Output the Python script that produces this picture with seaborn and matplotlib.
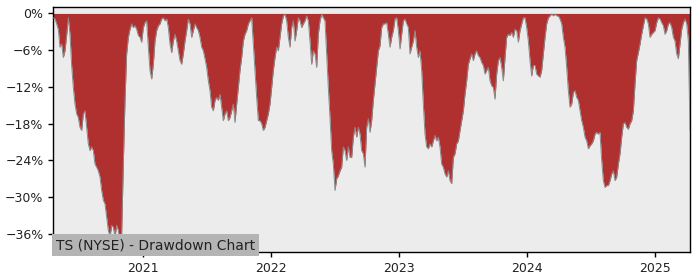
import numpy as np
import pandas as pd
import matplotlib
matplotlib.use("Agg")
import matplotlib.pyplot as plt
import matplotlib.dates as mdates
from matplotlib.ticker import FuncFormatter
import seaborn as sns

# ---- data (drawdown in %, evenly spaced samples from start to end) ----
start_date = "2020-04-21"
end_date = "2025-04-11"

dd_part1 = [-0.7, -0.9, -1.7, -2.6, -5.5, -5.0, -7.2, -6.1, -3.6, -0.7,
            -3.4, -8.5, -12.1, -14.8, -16.4, -17.0, -18.6, -19.1, -16.4, -15.9,
            -18.6, -21.3, -22.4, -21.8, -22.4, -24.6, -25.1, -25.7, -26.7, -28.9,
            -30.5, -31.1, -33.3, -35.4, -36.5, -34.6, -34.9, -36.5, -34.6, -35.4,
            -37.6, -36.0, -24.6, -14.2, -6.6, -3.9, -2.6, -1.7, -2.3, -2.0,
            -2.6, -3.6, -3.9, -4.7, -2.3, -1.5, -1.2, -5.5, -9.3, -10.7,
            -8.3]
dd_part2 = [-4.5, -2.8, -2.0, -1.7, -0.9, -0.7, -1.2, -0.9, -2.3, -5.0,
            -6.4, -4.5, -3.4, -4.5, -6.1, -7.7, -8.3, -6.6, -4.5, -2.8,
            -0.9, -1.7, -3.9, -2.8, -1.7, -2.3, -2.8, -3.9, -5.5, -6.1,
            -7.4, -8.8, -11.0, -12.6, -15.3, -15.9, -14.2, -13.7, -14.2, -13.2,
            -15.3, -17.5, -16.4, -15.9, -17.5, -17.0, -15.9, -14.8, -17.8, -14.8,
            -12.1, -9.3, -7.2, -4.5, -3.4, -2.8, -1.7, -1.2, -0.7, -5.0,
            -9.3, -13.7, -17.5]
dd_part3 = [-17.5, -18.0, -19.1, -18.6, -17.5, -16.4, -14.8, -12.1, -9.3, -7.2,
            -5.5, -6.1, -3.9, -1.7, -0.4, -0.1, -1.2, -3.9, -5.5, -2.3,
            -1.2, -4.5, -2.8, -0.7, -1.2, -2.3, -1.7, -1.2, -0.4, -1.2,
            -4.5, -8.3, -6.1, -6.6, -8.8, -3.4, -1.2, -0.1, -0.7, -1.2,
            -6.6, -12.1, -17.0, -22.4, -24.6, -28.9, -27.0, -26.5, -25.7, -25.1,
            -21.8, -22.4, -24.0, -21.8, -23.5, -23.5, -20.2, -18.6, -20.2, -18.6,
            -19.7, -22.4, -22.9]
dd_part4 = [-25.1, -18.6, -17.2, -19.4, -17.5, -14.2, -11.5, -8.8, -6.1, -5.3,
            -2.3, -1.7, -1.7, -1.5, -3.4, -5.5, -3.9, -2.8, -0.9, -0.7,
            -2.8, -5.8, -3.4, -1.2, -0.9, -1.7, -2.3, -6.6, -5.5, -4.5,
            -2.8, -5.5, -7.2, -6.1, -9.3, -14.8, -19.7, -21.8, -22.1, -21.3,
            -21.8, -20.8, -19.9, -20.8, -20.2, -21.8, -24.6, -25.1, -26.2, -26.7,
            -25.7, -27.3, -27.8, -23.5, -22.9, -21.3, -20.8, -19.1, -17.5, -15.9,
            -13.2, -11.0, -8.3]
dd_part5 = [-7.4, -6.6, -7.7, -6.6, -6.1, -6.9, -7.2, -8.0, -8.5, -9.9,
            -9.3, -8.8, -11.0, -11.8, -12.1, -14.0, -9.9, -7.7, -7.2, -8.8,
            -11.0, -7.2, -3.9, -3.4, -3.6, -3.1, -3.9, -2.6, -2.8, -4.7,
            -2.8, -1.7, -0.7, -0.7, -2.3, -4.5, -7.7, -10.2, -8.5, -8.5,
            -9.9, -10.2, -10.4, -9.3, -6.6, -3.9, -1.7, -0.7, -0.4, -0.1,
            -0.4, -0.1, -0.4, -0.4, -0.9, -1.7, -3.9, -5.5, -8.8, -12.6,
            -15.3, -14.8, -12.9]
dd_part6 = [-12.6, -13.7, -14.2, -15.9, -17.5, -18.6, -20.2, -20.8, -22.1, -21.6,
            -21.3, -20.8, -19.7, -19.4, -19.7, -19.4, -24.0, -27.3, -28.4, -28.1,
            -28.1, -27.3, -26.2, -25.7, -27.3, -26.7, -24.6, -22.9, -20.2, -18.0,
            -17.8, -18.6, -18.9, -18.0, -17.5, -15.9, -11.5, -7.7, -6.4, -5.0,
            -3.4, -2.0, -0.7, -0.9, -1.7, -3.9, -3.4, -3.1, -2.8, -1.5,
            -0.7, -0.9, -1.5, -2.0, -3.4, -2.8, -1.7, -1.5, -2.3, -3.9,
            -4.5, -6.6, -7.4, -5.0, -2.6, -1.5, -0.9, -1.7, -4.5, -19.1]

ytick_values = [0, -6, -12, -18, -24, -30, -36]
xtick_years = [2021, 2022, 2023, 2024, 2025]
title_text = "TS (NYSE) - Drawdown Chart"

drawdown = dd_part1 + dd_part2 + dd_part3 + dd_part4 + dd_part5 + dd_part6
dates = pd.date_range(start_date, end_date, periods=len(drawdown))
df = pd.DataFrame({"date": dates, "drawdown": drawdown})

# ---- style ----
sns.set_theme(style="ticks")
plt.rcParams["font.family"] = ["DejaVu Sans"]
plt.rcParams["axes.unicode_minus"] = True

fig = plt.figure(figsize=(7, 2.8), dpi=100)
ax = fig.add_axes([53.3 / 700, 1 - 252.3 / 280, (690 - 53.3) / 700, (252.3 - 7.3) / 280])
ax.set_facecolor("#ececec")

ax.fill_between(df["date"], df["drawdown"], 0, color="#b03030", linewidth=0, zorder=2)
sns.lineplot(data=df, x="date", y="drawdown", ax=ax, color="#8a8a8a",
             linewidth=0.7, zorder=3)

ax.set_xlim(df["date"].iloc[0], df["date"].iloc[-1])
ax.set_ylim(-39.0, 1.0)
ax.set_yticks(ytick_values)
ax.yaxis.set_major_formatter(FuncFormatter(
    lambda v, _: ("%d%%" % round(v)).replace("-", "\u2212")))
ax.set_xticks([pd.Timestamp(f"{y}-01-01") for y in xtick_years])
ax.xaxis.set_major_formatter(mdates.DateFormatter("%Y"))
ax.set_xlabel("")
ax.set_ylabel("")

for side in ["top", "right", "bottom", "left"]:
    ax.spines[side].set_visible(True)
    ax.spines[side].set_color("black")
    ax.spines[side].set_linewidth(1.0)
ax.tick_params(axis="both", labelsize=9, length=3.5, width=1.0, colors="black",
               labelcolor="#222222", direction="out")

ax.text(0.004, 0.0, title_text, transform=ax.transAxes, ha="left", va="bottom",
        fontsize=10, color="#222222", zorder=5,
        bbox=dict(facecolor="#b4b4b4", edgecolor="none", boxstyle="square,pad=0.28"))

fig.savefig("out.png", dpi=100)
